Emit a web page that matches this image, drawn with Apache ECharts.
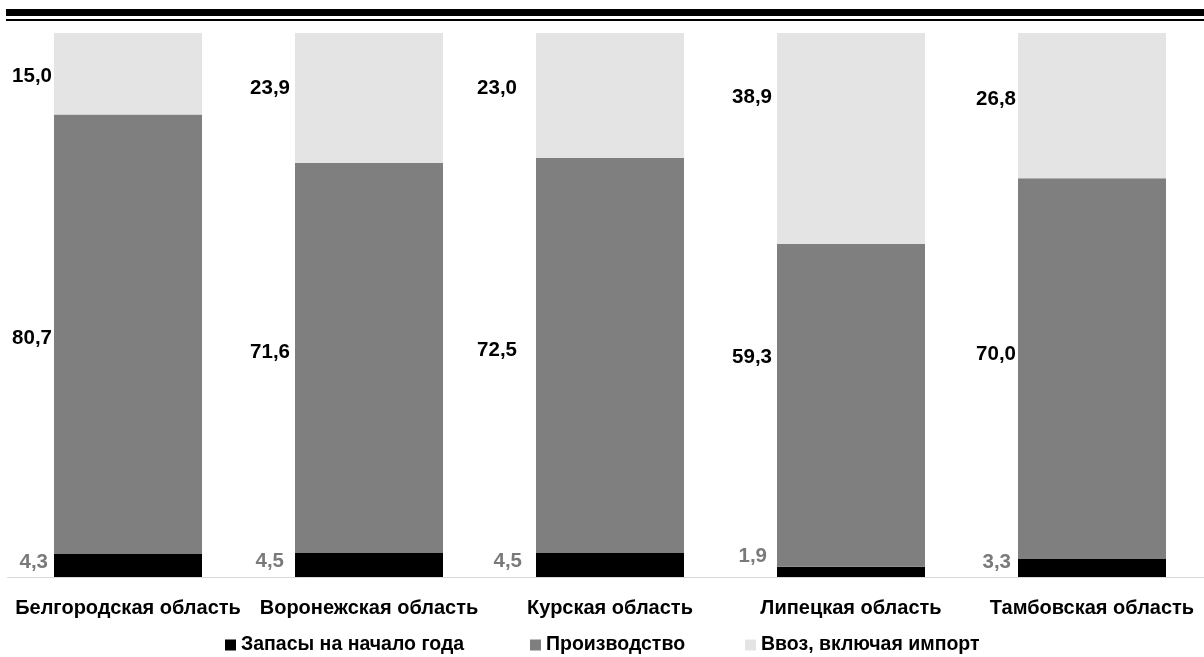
<!DOCTYPE html>
<html>
<head>
<meta charset="utf-8">
<script src="https://cdn.jsdelivr.net/npm/echarts@6/dist/echarts.min.js"></script>
<style>
  html, body { margin: 0; padding: 0; background: #fff; }
  #chart { width: 1204px; height: 657px; }
</style>
</head>
<body>
<div id="chart"></div>
<script>
// Regions of the Central Black Earth area
const regions = ['Белгородская область', 'Воронежская область', 'Курская область', 'Липецкая область', 'Тамбовская область'];

// Resource shares, %
const stocks = [4.3, 4.5, 4.5, 1.9, 3.3];           // Запасы на начало года
const production = [80.7, 71.6, 72.5, 59.3, 70.0];  // Производство
const imports = [15.0, 23.9, 23.0, 38.9, 26.8];     // Ввоз, включая импорт

// Hand-placed value labels: [dx, dy] nudges from the default left-of-segment spot
const stocksNudge = [[-6, -3], [-11, -3], [-14, -3], [-10, -15], [-7, -6]];
const productionNudge = [[-2, 4], [-5, -5], [-19, -5], [-5, -48], [-2, -14]];
const importsNudge = [[-2, 3], [-5, -10], [-19, -7], [-5, -41], [-2, -6]];

const seriesNames = ['Запасы на начало года', 'Производство', 'Ввоз, включая импорт'];
const colors = ['#000000', '#7f7f7f', '#e4e4e4'];

const FONT = '"Liberation Sans", Arial, sans-serif';
const fmt = p => p.value.toFixed(1).replace('.', ',');

function withNudges(values, nudges) {
  return values.map((v, i) => ({ value: v, label: { offset: nudges[i] } }));
}

function valueLabel(color) {
  return {
    show: true,
    position: 'left',
    distance: 0,
    formatter: fmt,
    fontFamily: FONT,
    fontWeight: 'bold',
    fontSize: 20.5,
    color: color
  };
}

function legendAt(name, left) {
  return {
    data: [name],
    left: left,
    top: 635,
    icon: 'rect',
    itemWidth: 11,
    itemHeight: 11,
    itemGap: 6,
    padding: 0,
    textStyle: { fontFamily: FONT, fontWeight: 'bold', fontSize: 19.5, color: '#000' }
  };
}

const chart = echarts.init(document.getElementById('chart'), null, { renderer: 'canvas' });

chart.setOption({
  animation: false,
  backgroundColor: '#ffffff',
  color: colors,
  grid: { left: 7.5, right: -8.5, top: 33, bottom: 80, containLabel: false, outerBoundsMode: 'none' },
  graphic: [
    { type: 'rect', shape: { x: 6, y: 9, width: 1198, height: 7 }, style: { fill: '#000' } },
    { type: 'rect', shape: { x: 6, y: 19, width: 1198, height: 2 }, style: { fill: '#000' } }
  ],
  legend: [
    legendAt(seriesNames[0], 225),
    legendAt(seriesNames[1], 530),
    legendAt(seriesNames[2], 745)
  ],
  xAxis: {
    type: 'category',
    data: regions,
    axisLine: { show: true, lineStyle: { color: '#d9d9d9', width: 1 } },
    axisTick: { show: false },
    axisLabel: {
      interval: 0,
      margin: 19,
      fontFamily: FONT,
      fontWeight: 'bold',
      fontSize: 20,
      lineHeight: 24,
      color: '#000'
    }
  },
  yAxis: {
    type: 'value',
    min: 0,
    max: 100,
    show: false,
    splitLine: { show: false }
  },
  series: [
    {
      name: seriesNames[0],
      type: 'bar',
      stack: 'total',
      barWidth: 148,
      data: withNudges(stocks, stocksNudge),
      label: valueLabel('#7a7a7a')
    },
    {
      name: seriesNames[1],
      type: 'bar',
      stack: 'total',
      barWidth: 148,
      data: withNudges(production, productionNudge),
      label: valueLabel('#000')
    },
    {
      name: seriesNames[2],
      type: 'bar',
      stack: 'total',
      barWidth: 148,
      data: withNudges(imports, importsNudge),
      label: valueLabel('#000')
    }
  ]
});
</script>
</body>
</html>
